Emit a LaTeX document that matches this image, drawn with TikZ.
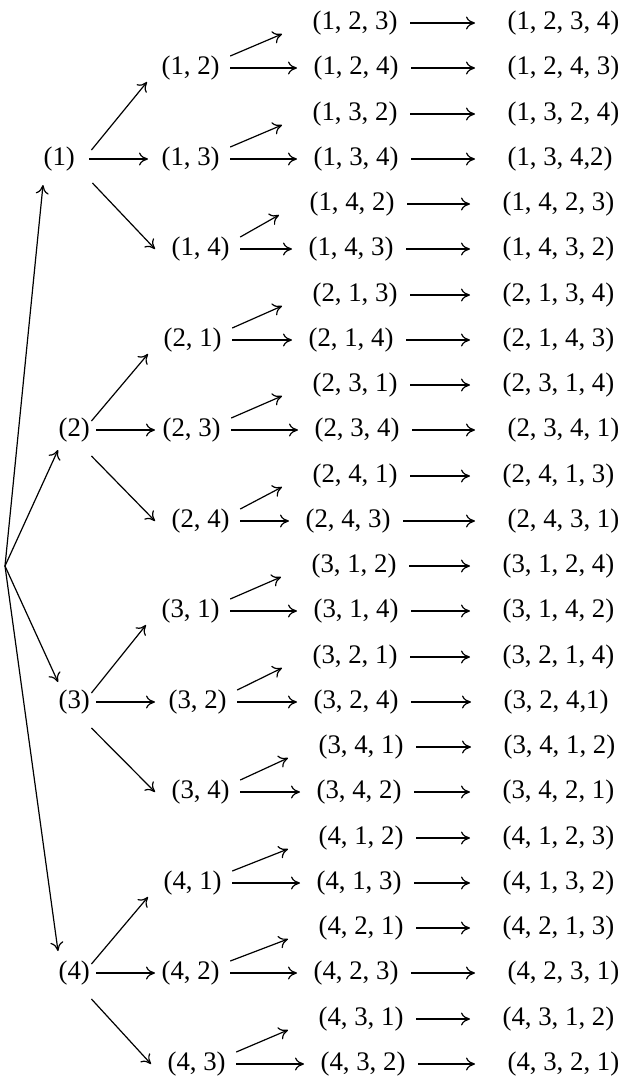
\documentclass[tikz,border=0pt]{standalone}
\usepackage{fontspec}
\setmainfont{Liberation Serif}
\usetikzlibrary{arrows.meta}

\begin{document}
\begin{tikzpicture}[x=0.5pt, y=-0.5pt, line width=0.6pt,
    font=\fontsize{13.4}{16}\selectfont, >={To[length=4.5pt,width=6.5pt]},
    every node/.style={inner sep=0pt, anchor=west}]
    \useasboundingbox (0,0) rectangle (622,1083);

    % Wurzel und erste Stufe
    \coordinate (root) at (5,566);
    \node (p1) at (43,159) {(1)};
    \node (p2) at (58,430) {(2)};
    \node (p3) at (58,702) {(3)};
    \node (p4) at (58,973) {(4)};
    \draw[->] (root) -- ([yshift=-13pt]p1.west);
    \draw[->] (root) -- ([yshift=-10pt]p2.west);
    \draw[->] (root) -- ([yshift=10pt]p3.west);
    \draw[->] (root) -- ([yshift=11pt]p4.west);

    % zweite Stufe
    \node (p12) at (161,68) {(1, 2)};
    \node (p13) at (161,159) {(1, 3)};
    \node (p14) at (171,249) {(1, 4)};
    \node (p21) at (163,340) {(2, 1)};
    \node (p23) at (162,430) {(2, 3)};
    \node (p24) at (171,521) {(2, 4)};
    \node (p31) at (161,611) {(3, 1)};
    \node (p32) at (168,702) {(3, 2)};
    \node (p34) at (171,792) {(3, 4)};
    \node (p41) at (163,883) {(4, 1)};
    \node (p42) at (161,973) {(4, 2)};
    \node (p43) at (167,1064) {(4, 3)};
    \draw[->] ([xshift=8pt,yshift=4.5pt]p1.east) -- ([xshift=-7pt,yshift=-7pt]p12.west);
    \draw[->] ([xshift=7pt]p1.east) -- ([xshift=-6.5pt]p13.west);
    \draw[->] ([xshift=8.5pt,yshift=-12pt]p1.east) -- ([xshift=-8pt]p14.west);
    \draw[->] ([xshift=0.5pt,yshift=4.5pt]p2.east) -- ([xshift=-7.5pt,yshift=-7pt]p21.west);
    \draw[->] ([xshift=3pt]p2.east) -- ([xshift=-3.5pt]p23.west);
    \draw[->] ([xshift=0.5pt,yshift=-13pt]p2.east) -- ([xshift=-8pt]p24.west);
    \draw[->] ([xshift=0.5pt,yshift=4.5pt]p3.east) -- ([xshift=-7.5pt,yshift=-7pt]p31.west);
    \draw[->] ([xshift=3pt]p3.east) -- ([xshift=-6.5pt]p32.west);
    \draw[->] ([xshift=0.5pt,yshift=-13pt]p3.east) -- ([xshift=-8pt]p34.west);
    \draw[->] ([xshift=0.5pt,yshift=4.5pt]p4.east) -- ([xshift=-7.5pt,yshift=-7pt]p41.west);
    \draw[->] ([xshift=3pt]p4.east) -- ([xshift=-3pt]p42.west);
    \draw[->] ([xshift=0.5pt,yshift=-13pt]p4.east) -- ([xshift=-8pt]p43.west);

    % dritte Stufe
    \node (p123) at (312,23) {(1, 2, 3)};
    \node (p124) at (313,68) {(1, 2, 4)};
    \node (p132) at (312,114) {(1, 3, 2)};
    \node (p134) at (313,159) {(1, 3, 4)};
    \node (p142) at (309,204) {(1, 4, 2)};
    \node (p143) at (308,249) {(1, 4, 3)};
    \node (p213) at (312,295) {(2, 1, 3)};
    \node (p214) at (308,340) {(2, 1, 4)};
    \node (p231) at (312,385) {(2, 3, 1)};
    \node (p234) at (314,430) {(2, 3, 4)};
    \node (p241) at (312,476) {(2, 4, 1)};
    \node (p243) at (305,521) {(2, 4, 3)};
    \node (p312) at (311,566) {(3, 1, 2)};
    \node (p314) at (313,611) {(3, 1, 4)};
    \node (p321) at (312,657) {(3, 2, 1)};
    \node (p324) at (313,702) {(3, 2, 4)};
    \node (p341) at (318,747) {(3, 4, 1)};
    \node (p342) at (316,792) {(3, 4, 2)};
    \node (p412) at (318,838) {(4, 1, 2)};
    \node (p413) at (316,883) {(4, 1, 3)};
    \node (p421) at (318,928) {(4, 2, 1)};
    \node (p423) at (313,973) {(4, 2, 3)};
    \node (p431) at (318,1019) {(4, 3, 1)};
    \node (p432) at (320,1064) {(4, 3, 2)};
    \draw[->] ([xshift=5pt,yshift=6pt]p12.east) -- ([xshift=-15pt,yshift=-5.5pt]p123.west);
    \draw[->] ([xshift=5pt]p12.east) -- ([xshift=-8pt]p124.west);
    \draw[->] ([xshift=5pt,yshift=6pt]p13.east) -- ([xshift=-15pt,yshift=-5.5pt]p132.west);
    \draw[->] ([xshift=5pt]p13.east) -- ([xshift=-8pt]p134.west);
    \draw[->] ([xshift=5pt,yshift=6pt]p14.east) -- ([xshift=-15pt,yshift=-5.5pt]p142.west);
    \draw[->] ([xshift=5pt]p14.east) -- ([xshift=-8pt]p143.west);
    \draw[->] ([xshift=5pt,yshift=6pt]p21.east) -- ([xshift=-15pt,yshift=-5.5pt]p213.west);
    \draw[->] ([xshift=5pt]p21.east) -- ([xshift=-8pt]p214.west);
    \draw[->] ([xshift=5pt,yshift=6pt]p23.east) -- ([xshift=-15pt,yshift=-5.5pt]p231.west);
    \draw[->] ([xshift=5pt]p23.east) -- ([xshift=-8pt]p234.west);
    \draw[->] ([xshift=5pt,yshift=6pt]p24.east) -- ([xshift=-15pt,yshift=-5.5pt]p241.west);
    \draw[->] ([xshift=5pt]p24.east) -- ([xshift=-8pt]p243.west);
    \draw[->] ([xshift=5pt,yshift=6pt]p31.east) -- ([xshift=-15pt,yshift=-5.5pt]p312.west);
    \draw[->] ([xshift=5pt]p31.east) -- ([xshift=-8pt]p314.west);
    \draw[->] ([xshift=5pt,yshift=6pt]p32.east) -- ([xshift=-15pt,yshift=-5.5pt]p321.west);
    \draw[->] ([xshift=5pt]p32.east) -- ([xshift=-8pt]p324.west);
    \draw[->] ([xshift=5pt,yshift=6pt]p34.east) -- ([xshift=-15pt,yshift=-5.5pt]p341.west);
    \draw[->] ([xshift=5pt]p34.east) -- ([xshift=-8pt]p342.west);
    \draw[->] ([xshift=5pt,yshift=6pt]p41.east) -- ([xshift=-15pt,yshift=-5.5pt]p412.west);
    \draw[->] ([xshift=5pt]p41.east) -- ([xshift=-8pt]p413.west);
    \draw[->] ([xshift=5pt,yshift=6pt]p42.east) -- ([xshift=-15pt,yshift=-5.5pt]p421.west);
    \draw[->] ([xshift=5pt]p42.east) -- ([xshift=-8pt]p423.west);
    \draw[->] ([xshift=5pt,yshift=6pt]p43.east) -- ([xshift=-15pt,yshift=-5.5pt]p431.west);
    \draw[->] ([xshift=5pt]p43.east) -- ([xshift=-8pt]p432.west);

    % vierte Stufe
    \node (p1234) at (507,23) {(1, 2, 3, 4)};
    \node (p1243) at (507,68) {(1, 2, 4, 3)};
    \node (p1324) at (507,114) {(1, 3, 2, 4)};
    \node (p1342) at (507,159) {(1, 3, 4,2)};
    \node (p1423) at (502,204) {(1, 4, 2, 3)};
    \node (p1432) at (502,249) {(1, 4, 3, 2)};
    \node (p2134) at (502,295) {(2, 1, 3, 4)};
    \node (p2143) at (502,340) {(2, 1, 4, 3)};
    \node (p2314) at (502,385) {(2, 3, 1, 4)};
    \node (p2341) at (507,430) {(2, 3, 4, 1)};
    \node (p2413) at (502,476) {(2, 4, 1, 3)};
    \node (p2431) at (507,521) {(2, 4, 3, 1)};
    \node (p3124) at (502,566) {(3, 1, 2, 4)};
    \node (p3142) at (502,611) {(3, 1, 4, 2)};
    \node (p3214) at (502,657) {(3, 2, 1, 4)};
    \node (p3241) at (503,702) {(3, 2, 4,1)};
    \node (p3412) at (503,747) {(3, 4, 1, 2)};
    \node (p3421) at (502,792) {(3, 4, 2, 1)};
    \node (p4123) at (502,838) {(4, 1, 2, 3)};
    \node (p4132) at (502,883) {(4, 1, 3, 2)};
    \node (p4213) at (502,928) {(4, 2, 1, 3)};
    \node (p4231) at (507,973) {(4, 2, 3, 1)};
    \node (p4312) at (502,1019) {(4, 3, 1, 2)};
    \node (p4321) at (507,1064) {(4, 3, 2, 1)};
    \draw[->] ([xshift=6pt]p123.east) -- ([xshift=-16pt]p1234.west);
    \draw[->] ([xshift=6pt]p124.east) -- ([xshift=-16pt]p1243.west);
    \draw[->] ([xshift=6pt]p132.east) -- ([xshift=-16pt]p1324.west);
    \draw[->] ([xshift=6pt]p134.east) -- ([xshift=-16pt]p1342.west);
    \draw[->] ([xshift=6pt]p142.east) -- ([xshift=-16pt]p1423.west);
    \draw[->] ([xshift=6pt]p143.east) -- ([xshift=-16pt]p1432.west);
    \draw[->] ([xshift=6pt]p213.east) -- ([xshift=-16pt]p2134.west);
    \draw[->] ([xshift=6pt]p214.east) -- ([xshift=-16pt]p2143.west);
    \draw[->] ([xshift=6pt]p231.east) -- ([xshift=-16pt]p2314.west);
    \draw[->] ([xshift=6pt]p234.east) -- ([xshift=-16pt]p2341.west);
    \draw[->] ([xshift=6pt]p241.east) -- ([xshift=-16pt]p2413.west);
    \draw[->] ([xshift=6pt]p243.east) -- ([xshift=-16pt]p2431.west);
    \draw[->] ([xshift=6pt]p312.east) -- ([xshift=-16pt]p3124.west);
    \draw[->] ([xshift=6pt]p314.east) -- ([xshift=-16pt]p3142.west);
    \draw[->] ([xshift=6pt]p321.east) -- ([xshift=-16pt]p3214.west);
    \draw[->] ([xshift=6pt]p324.east) -- ([xshift=-16pt]p3241.west);
    \draw[->] ([xshift=6pt]p341.east) -- ([xshift=-16pt]p3412.west);
    \draw[->] ([xshift=6pt]p342.east) -- ([xshift=-16pt]p3421.west);
    \draw[->] ([xshift=6pt]p412.east) -- ([xshift=-16pt]p4123.west);
    \draw[->] ([xshift=6pt]p413.east) -- ([xshift=-16pt]p4132.west);
    \draw[->] ([xshift=6pt]p421.east) -- ([xshift=-16pt]p4213.west);
    \draw[->] ([xshift=6pt]p423.east) -- ([xshift=-16pt]p4231.west);
    \draw[->] ([xshift=6pt]p431.east) -- ([xshift=-16pt]p4312.west);
    \draw[->] ([xshift=6pt]p432.east) -- ([xshift=-16pt]p4321.west);
\end{tikzpicture}
\end{document}
